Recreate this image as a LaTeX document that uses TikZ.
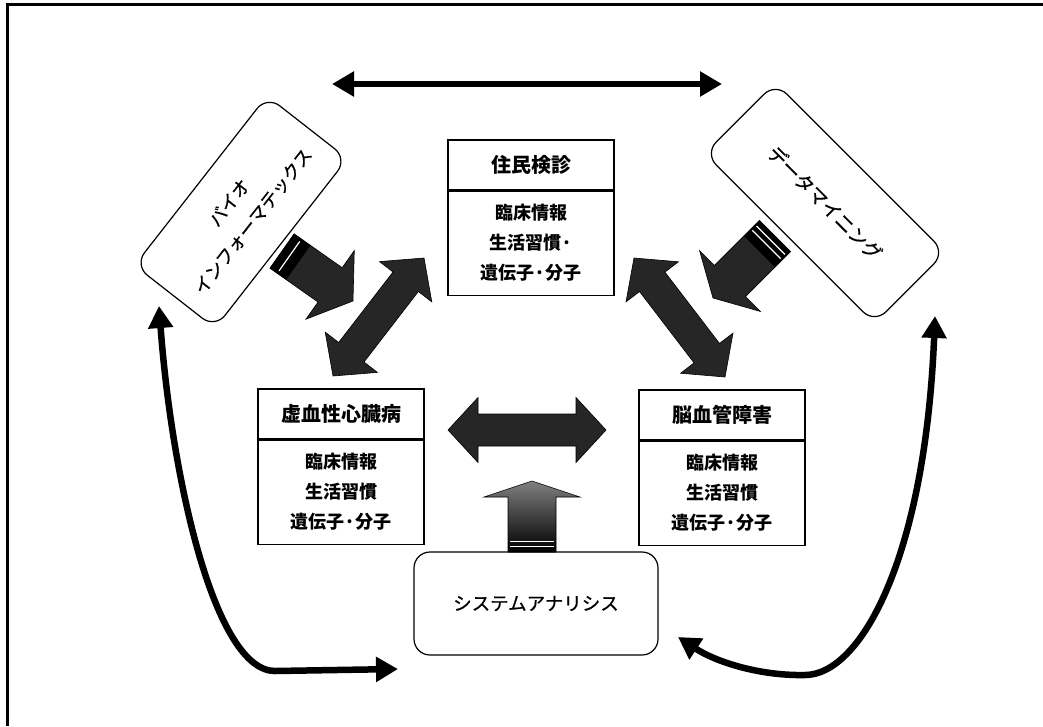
\documentclass[tikz,border=0pt]{standalone}
\usepackage{fontspec}
\setmainfont{Noto Sans CJK JP}
\newfontfamily\jpmed[FakeBold=0.7]{Noto Sans CJK JP}
\usetikzlibrary{calc,arrows.meta}
\tikzset{
  hbox/.style={draw, line width=1.2pt, fill=white, minimum width=166pt, minimum height=50pt, inner sep=0pt,
    font={\fontsize{20}{24}\selectfont\bfseries}},
  bbox/.style={draw, line width=1.2pt, fill=white, minimum width=166pt, minimum height=104pt, inner sep=0pt,
    font={\fontsize{18}{30}\selectfont\bfseries}},
  rbox/.style={draw, line width=1.2pt, fill=white, rounded corners=16pt, align=center, inner sep=0pt,
    font={\fontsize{18}{30}\selectfont\jpmed}},
  blk/.style={fill=black!85, draw=black, line width=0.6pt},
  upblk/.style={top color=black!50, bottom color=black, draw=black, line width=0.6pt},
  bigline/.style={line width=6.5pt, {Triangle[length=22pt,width=24pt]}-{Triangle[length=22pt,width=24pt]}},
  frameline/.style={line width=3pt}
}
\newcommand\lines[2]{\raisebox{#1}{\parbox{160pt}{\centering #2}}}
% double block arrow: A, B, half shaft width, half head width, head length, style
\newcommand\blkdbl[6]{%
  \coordinate (am) at ($(#1)!#5!(#2)$);
  \coordinate (bm) at ($(#2)!#5!(#1)$);
  \path[#6] (#1) -- ($(am)!#4!90:(#2)$) -- ($(am)!#3!90:(#2)$)
    -- ($(bm)!#3!-90:(#1)$) -- ($(bm)!#4!-90:(#1)$) -- (#2)
    -- ($(bm)!#4!90:(#1)$) -- ($(bm)!#3!90:(#1)$)
    -- ($(am)!#3!-90:(#2)$) -- ($(am)!#4!-90:(#2)$) -- cycle;
}
% single block arrow: S, T, half shaft width, half head width, head length, style
\newcommand\blksgl[6]{%
  \coordinate (tm) at ($(#2)!#5!(#1)$);
  \path[#6] ($(#1)!#3!90:(#2)$) -- ($(tm)!#3!-90:(#1)$) -- ($(tm)!#4!-90:(#1)$)
    -- (#2) -- ($(tm)!#4!90:(#1)$) -- ($(tm)!#3!90:(#1)$)
    -- ($(#1)!#3!-90:(#2)$) -- cycle;
}
\begin{document}
\begin{tikzpicture}[x=1pt,y=-1pt]
\useasboundingbox (0,0) rectangle (1043,726);
\fill[white] (0,0) rectangle (1043,726);
% frame
\coordinate (f1) at (1043,4);
\coordinate (f2) at (7,4);
\coordinate (f3) at (7,726);
\draw[frameline] (f1) -- (f2) -- (f3);

% boxes
\node[hbox] (juminT) at (531,165) {\raisebox{-7pt}{住民検診}};
\node[bbox, anchor=north] (juminB) at (juminT.south) {\lines{-7pt}{臨床情報\\生活習慣·\\遺伝子·分子}};

\node[hbox] (kyoT) at (341,414) {\raisebox{-6pt}{虚血性心臓病}};
\node[bbox, anchor=north] (kyoB) at (kyoT.south) {\lines{-9pt}{臨床情報\\生活習慣\\遺伝子·分子}};

\node[hbox] (nouT) at (722,415) {\raisebox{-6pt}{脳血管障害}};
\node[bbox, anchor=north] (nouB) at (nouT.south) {\lines{-9pt}{臨床情報\\生活習慣\\遺伝子·分子}};

\node[rbox, rotate=52, minimum width=215pt, minimum height=102pt] (bio) at (241,212) {バイオ\\インフォーマテックス};

\node[rbox, rotate=-45, minimum width=240pt, minimum height=100pt, font={\fontsize{19}{30}\selectfont\jpmed}] (dm) at (825,203) {データマイニング};

\node[rbox, minimum width=244pt, minimum height=103pt, font={\fontsize{18.5}{24}\selectfont\jpmed}] (sys) at (536,603.5) {システムアナリシス};

% top double arrow
\coordinate (topL) at (332,84);
\coordinate (topR) at (722,84);
\draw[bigline] (topL) -- (topR);

% block arrows
\coordinate (hA) at (448,430);
\coordinate (hB) at (606,430);
\blkdbl{hA}{hB}{16pt}{32.5pt}{30pt}{blk}

\coordinate (lA) at (333,376);
\coordinate (lB) at (424,258);
\blkdbl{lA}{lB}{16pt}{33pt}{30pt}{blk}

\coordinate (rA) at (725,377);
\coordinate (rB) at (634,258);
\blkdbl{rA}{rB}{16pt}{33pt}{30pt}{blk}

\coordinate (bioS) at (282,251);
\coordinate (bioE) at (353,301);
\blksgl{bioS}{bioE}{21pt}{42pt}{28pt}{blk}
\coordinate (b2) at ($(bioS)!20pt!(bioE)$);
\fill[black] ($(bioS)!21pt!90:(bioE)$) -- ($(b2)!21pt!90:(bioE)$) -- ($(b2)!21pt!-90:(bioE)$) -- ($(bioS)!21pt!-90:(bioE)$) -- cycle;
\coordinate (b1) at ($(bioS)!9pt!(bioE)$);
\draw[white, line width=1.2pt] ($(b1)!18pt!90:(bioE)$) -- ($(b1)!18pt!-90:(bioE)$);

\coordinate (dmS) at (775,236);
\coordinate (dmE) at (713,298);
\blksgl{dmS}{dmE}{22pt}{43pt}{24pt}{blk}
\coordinate (d2) at ($(dmS)!22pt!(dmE)$);
\fill[black] ($(dmS)!22pt!90:(dmE)$) -- ($(d2)!22pt!90:(dmE)$) -- ($(d2)!22pt!-90:(dmE)$) -- ($(dmS)!22pt!-90:(dmE)$) -- cycle;
\coordinate (d1) at ($(dmS)!6pt!(dmE)$);
\coordinate (d3) at ($(dmS)!12pt!(dmE)$);
\draw[white, line width=1.2pt] ($(d1)!20pt!90:(dmE)$) -- ($(d1)!20pt!-90:(dmE)$);
\draw[white, line width=1.2pt] ($(d3)!20pt!90:(dmE)$) -- ($(d3)!20pt!-90:(dmE)$);

\coordinate (uS) at (532,552);
\coordinate (uT) at (532,481);
\blksgl{uS}{uT}{24pt}{48pt}{16pt}{upblk}
\coordinate (u1) at (532,541);
\coordinate (u2) at (532,546);
\draw[white, line width=1pt] ($(u1)+(-22,0)$) -- ($(u1)+(22,0)$);
\draw[white, line width=1pt] ($(u2)+(-22,0)$) -- ($(u2)+(22,0)$);

% curved arrows
\coordinate (cL1) at (398,669);
\coordinate (cL2) at (159,306);
\draw[bigline] (cL1) -- (275,671) .. controls (215,671) and (172,480) .. (cL2);

\coordinate (cR1) at (678,637);
\coordinate (cR2) at (935,316);
\draw[bigline] (cR1) .. controls (716,662) and (760,676) .. (805,675) .. controls (860,675) and (925,560) .. (cR2);
\end{tikzpicture}
\end{document}
